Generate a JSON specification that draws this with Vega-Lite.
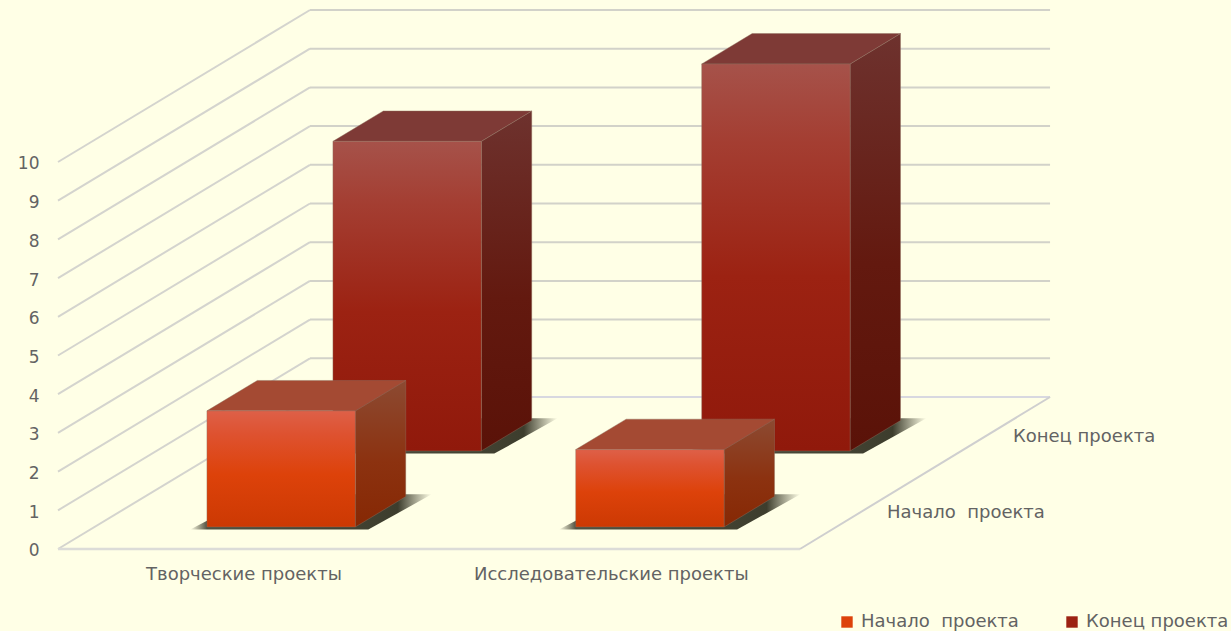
{
"$schema":"https://vega.github.io/schema/vega-lite/v6.json",
"width":1231,"height":631,"autosize":{"type":"none"},"padding":0,"background":"#FFFFE6",
"config":{"view":{"stroke":null},"font":"DejaVu Sans","text":{"font":"DejaVu Sans"}},
"resolve":{"axis":{"x":"independent","y":"independent"}},
"datasets":{
"ticks":[{"tick":0},{"tick":1},{"tick":2},{"tick":3},{"tick":4},{"tick":5},{"tick":6},{"tick":7},{"tick":8},{"tick":9},{"tick":10}],
"depth":[{"label":"Начало\u00a0 проекта","d":0.5},{"label":"Конец проекта","d":1.5}]
},
"data":{"values":[
{"category":"Творческие проекты","series":"Начало\u00a0 проекта","value":3},
{"category":"Исследовательские проекты","series":"Начало\u00a0 проекта","value":2},
{"category":"Творческие проекты","series":"Конец проекта","value":8},
{"category":"Исследовательские проекты","series":"Конец проекта","value":10}
]},
"transform":[
{"calculate":"indexof(['Творческие проекты','Исследовательские проекты'],datum.category)","as":"ci"},
{"calculate":"indexof(['Начало\u00a0 проекта','Конец проекта'],datum.series)","as":"si"},
{"calculate":"datum.ci*0.994+0.303","as":"u0"},{"calculate":"datum.ci*0.994+0.703","as":"u1"},
{"calculate":"datum.si+0.29","as":"d0"},{"calculate":"datum.si+0.69","as":"d1"}
],
"layer":[
{"data":{"name":"ticks"},"transform":[{"calculate":"0","as":"a"},{"calculate":"0.6792","as":"b"},{"calculate":"datum.tick+3.9276","as":"t2"}],
 "mark":{"type":"rule","stroke":"#D4D4CE","strokeWidth":2},
 "encoding":{
  "x":{"field":"a","type":"quantitative","scale":{"domain":[-0.15633,3.16173],"nice":false,"zero":false},
   "axis":{"orient":"bottom","values":[0.5,1.49],"labelExpr":"datum.value<1?'Творческие проекты':'Исследовательские проекты'","title":null,"domain":false,"ticks":false,"grid":false,"labelPadding":-66,"labelFontSize":18,"labelLimit":500,"labelColor":"#636363","labelFont":"DejaVu Sans","labelOverlap":false,"labelBound":false,"labelFlush":false}},
  "x2":{"field":"b"},
  "y":{"field":"tick","type":"quantitative","scale":{"domain":[-2.1189,14.186],"nice":false,"zero":false},
   "axis":{"orient":"left","values":[0,1,2,3,4,5,6,7,8,9,10],"title":null,"domain":false,"ticks":false,"grid":false,"labelPadding":-39,"labelOffset":2,"labelFontSize":17,"labelColor":"#636363","labelFont":"DejaVu Sans","labelOverlap":false,"labelBound":false,"labelFlush":false}},
  "y2":{"field":"t2"}
 }},
{"data":{"name":"ticks"},"transform":[{"filter":"datum.tick>0"},{"calculate":"0.6792","as":"a"},{"calculate":"2.674","as":"b"},{"calculate":"datum.tick+3.9276","as":"t2"}],
 "mark":{"type":"rule","stroke":"#D2D2C9","strokeWidth":2},
 "encoding":{"x":{"field":"a","type":"quantitative","axis":null},"x2":{"field":"b"},"y":{"field":"t2","type":"quantitative","axis":null}}},
{"data":{"name":"ticks"},"transform":[{"filter":"datum.tick==0"},{"calculate":"0.6792","as":"a"},{"calculate":"2.674","as":"b"},{"calculate":"3.9276","as":"t2"}],
 "mark":{"type":"rule","stroke":"#D8D8E0","strokeWidth":2},
 "encoding":{"x":{"field":"a","type":"quantitative","axis":null},"x2":{"field":"b"},"y":{"field":"t2","type":"quantitative","axis":null}}},
{"data":{"name":"ticks"},"transform":[{"filter":"datum.tick==0"},{"calculate":"0","as":"a"},{"calculate":"2","as":"b"}],
 "mark":{"type":"rule","stroke":"#DCDCD8","strokeWidth":2.5},
 "encoding":{"x":{"field":"a","type":"quantitative","axis":null},"x2":{"field":"b"},"y":{"field":"tick","type":"quantitative","axis":null}}},
{"data":{"name":"ticks"},"transform":[{"filter":"datum.tick==0"},{"calculate":"2","as":"a"},{"calculate":"2.674","as":"b"},{"calculate":"3.9276","as":"t2"}],
 "mark":{"type":"rule","stroke":"#CFCFCF","strokeWidth":2},
 "encoding":{"x":{"field":"a","type":"quantitative","axis":null},"x2":{"field":"b"},"y":{"field":"tick","type":"quantitative","axis":null},"y2":{"field":"t2"}}},

{"transform":[{"filter":"datum.si==1"},{"fold":["d0","d1"],"as":["edge","d"]},
 {"calculate":"datum.edge=='d0'?datum.u0-0.045+datum.d0*0.3396:datum.u0+datum.d1*0.3396","as":"xa"},
 {"calculate":"datum.u1+datum.d*0.3396+(datum.edge=='d1'?0.07:0.035)","as":"xb"},
 {"calculate":"(datum.d+(datum.edge=='d0'?-0.035:0.03))*1.9638","as":"yy"}],
 "mark":{"type":"area","orient":"horizontal","fill":{"gradient":"linear","x1":0,"x2":1,"y1":0,"y2":0,"stops":[{"offset":0,"color":"rgba(50,50,35,0)"},{"offset":0.07,"color":"rgba(50,50,35,0.85)"},{"offset":0.86,"color":"rgba(40,40,25,0.9)"},{"offset":1,"color":"rgba(50,50,35,0)"}]}},
 "encoding":{"x":{"field":"xa","type":"quantitative","axis":null},"x2":{"field":"xb"},"y":{"field":"yy","type":"quantitative","axis":null},"detail":{"field":"category"}}},
{"transform":[{"filter":"datum.si==1"},{"fold":["d0","d1"],"as":["edge","d"]},
 {"calculate":"datum.u1+datum.d*0.3396","as":"xx"},{"calculate":"datum.d*1.9638","as":"lo"},{"calculate":"datum.value+datum.d*1.9638","as":"hi"}],
 "mark":{"type":"area","orient":"vertical","stroke":"#8E7060","strokeWidth":0.7,"strokeOpacity":0.6,"fill":{"gradient":"linear","x1":0,"x2":0,"y1":0,"y2":1,"stops":[{"offset":0,"color":"#6E322E"},{"offset":0.55,"color":"#63190F"},{"offset":1,"color":"#5A1208"}]}},
 "encoding":{"x":{"field":"xx","type":"quantitative","axis":null},"y":{"field":"hi","type":"quantitative","axis":null},"y2":{"field":"lo"},"detail":{"field":"category"}}},
{"transform":[{"filter":"datum.si==1"},{"fold":["d0","d1"],"as":["edge","d"]},
 {"calculate":"datum.u0+datum.d*0.3396","as":"xa"},{"calculate":"datum.u1+datum.d*0.3396","as":"xb"},{"calculate":"datum.value+datum.d*1.9638","as":"yy"}],
 "mark":{"type":"area","orient":"horizontal","stroke":"#8E7060","strokeWidth":0.7,"strokeOpacity":0.6,"fill":"#7E3A36"},
 "encoding":{"x":{"field":"xa","type":"quantitative","axis":null},"x2":{"field":"xb"},"y":{"field":"yy","type":"quantitative","axis":null},"detail":{"field":"category"}}},
{"transform":[{"filter":"datum.si==1"},
 {"calculate":"datum.u0+datum.d0*0.3396","as":"xa"},{"calculate":"datum.u1+datum.d0*0.3396","as":"xb"},{"calculate":"datum.d0*1.9638","as":"lo"},{"calculate":"datum.value+datum.d0*1.9638","as":"hi"}],
 "mark":{"type":"rect","stroke":"#8E7060","strokeWidth":0.7,"strokeOpacity":0.6,"fill":{"gradient":"linear","x1":0,"x2":0,"y1":0,"y2":1,"stops":[{"offset":0,"color":"#A6524A"},{"offset":0.2,"color":"#A43E32"},{"offset":0.55,"color":"#9C2212"},{"offset":1,"color":"#90190B"}]}},
 "encoding":{"x":{"field":"xa","type":"quantitative","axis":null},"x2":{"field":"xb"},"y":{"field":"hi","type":"quantitative","axis":null},"y2":{"field":"lo"}}},

{"transform":[{"filter":"datum.si==0"},{"fold":["d0","d1"],"as":["edge","d"]},
 {"calculate":"datum.edge=='d0'?datum.u0-0.045+datum.d0*0.3396:datum.u0+datum.d1*0.3396","as":"xa"},
 {"calculate":"datum.u1+datum.d*0.3396+(datum.edge=='d1'?0.07:0.035)","as":"xb"},
 {"calculate":"(datum.d+(datum.edge=='d0'?-0.035:0.03))*1.9638","as":"yy"}],
 "mark":{"type":"area","orient":"horizontal","fill":{"gradient":"linear","x1":0,"x2":1,"y1":0,"y2":0,"stops":[{"offset":0,"color":"rgba(50,50,35,0)"},{"offset":0.07,"color":"rgba(50,50,35,0.85)"},{"offset":0.86,"color":"rgba(40,40,25,0.9)"},{"offset":1,"color":"rgba(50,50,35,0)"}]}},
 "encoding":{"x":{"field":"xa","type":"quantitative","axis":null},"x2":{"field":"xb"},"y":{"field":"yy","type":"quantitative","axis":null},"detail":{"field":"category"}}},
{"transform":[{"filter":"datum.si==0"},{"fold":["d0","d1"],"as":["edge","d"]},
 {"calculate":"datum.u1+datum.d*0.3396","as":"xx"},{"calculate":"datum.d*1.9638","as":"lo"},{"calculate":"datum.value+datum.d*1.9638","as":"hi"}],
 "mark":{"type":"area","orient":"vertical","stroke":"#8E7060","strokeWidth":0.7,"strokeOpacity":0.6,"fill":{"gradient":"linear","x1":0,"x2":0,"y1":0,"y2":1,"stops":[{"offset":0,"color":"#8C4A32"},{"offset":0.55,"color":"#8C3210"},{"offset":1,"color":"#862804"}]}},
 "encoding":{"x":{"field":"xx","type":"quantitative","axis":null},"y":{"field":"hi","type":"quantitative","axis":null},"y2":{"field":"lo"},"detail":{"field":"category"}}},
{"transform":[{"filter":"datum.si==0"},{"fold":["d0","d1"],"as":["edge","d"]},
 {"calculate":"datum.u0+datum.d*0.3396","as":"xa"},{"calculate":"datum.u1+datum.d*0.3396","as":"xb"},{"calculate":"datum.value+datum.d*1.9638","as":"yy"}],
 "mark":{"type":"area","orient":"horizontal","stroke":"#8E7060","strokeWidth":0.7,"strokeOpacity":0.6,"fill":"#A44A33"},
 "encoding":{"x":{"field":"xa","type":"quantitative","axis":null},"x2":{"field":"xb"},"y":{"field":"yy","type":"quantitative","axis":null},"detail":{"field":"category"}}},
{"transform":[{"filter":"datum.si==0"},
 {"calculate":"datum.u0+datum.d0*0.3396","as":"xa"},{"calculate":"datum.u1+datum.d0*0.3396","as":"xb"},{"calculate":"datum.d0*1.9638","as":"lo"},{"calculate":"datum.value+datum.d0*1.9638","as":"hi"}],
 "mark":{"type":"rect","stroke":"#8E7060","strokeWidth":0.7,"strokeOpacity":0.6,"fill":{"gradient":"linear","x1":0,"x2":0,"y1":0,"y2":1,"stops":[{"offset":0,"color":"#DE6048"},{"offset":0.2,"color":"#DE5230"},{"offset":0.55,"color":"#DD420A"},{"offset":1,"color":"#CC3903"}]}},
 "encoding":{"x":{"field":"xa","type":"quantitative","axis":null},"x2":{"field":"xb"},"y":{"field":"hi","type":"quantitative","axis":null},"y2":{"field":"lo"}}},

{"data":{"name":"depth"},"transform":[{"calculate":"2+datum.d*0.3396","as":"xx"},{"calculate":"datum.d*1.9638","as":"yy"}],
 "mark":{"type":"text","align":"left","baseline":"middle","dx":24,"dy":2,"fontSize":18,"font":"DejaVu Sans","color":"#636363"},
 "encoding":{"x":{"field":"xx","type":"quantitative","axis":null},"y":{"field":"yy","type":"quantitative","axis":null},"text":{"field":"label"}}},

{"transform":[{"filter":"datum.value<0"}],
 "mark":{"type":"point","filled":true,"size":0,"opacity":0},
 "encoding":{"x":{"field":"value","type":"quantitative","axis":null},"y":{"field":"value","type":"quantitative","axis":null},
  "color":{"field":"series","type":"nominal","scale":{"domain":["Начало\u00a0 проекта","Конец проекта"],"range":["#DD420A","#9C2212"]},
   "legend":{"orient":"none","legendX":838,"legendY":613,"direction":"horizontal","columns":2,"title":null,"symbolType":"square","symbolSize":130,"symbolOpacity":1,"symbolStrokeWidth":0,"labelFontSize":18,"labelColor":"#636363","labelFont":"DejaVu Sans","labelLimit":300,"columnPadding":44,"labelOffset":5}}}}
]
}
